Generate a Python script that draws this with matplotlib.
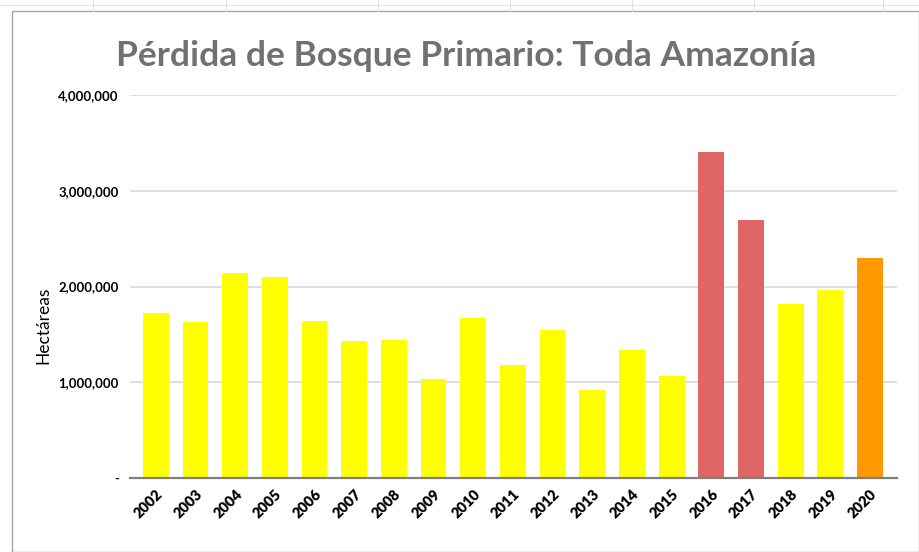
import matplotlib
matplotlib.use("Agg")
import matplotlib.pyplot as plt
from matplotlib.ticker import FuncFormatter
from matplotlib.lines import Line2D
from matplotlib.patches import Rectangle

years = ["2002", "2003", "2004", "2005", "2006", "2007", "2008", "2009", "2010", "2011",
         "2012", "2013", "2014", "2015", "2016", "2017", "2018", "2019", "2020"]
hectares = [1720000, 1630000, 2140000, 2100000, 1640000, 1430000, 1440000, 1030000, 1670000,
            1180000, 1550000, 920000, 1340000, 1070000, 3400000, 2690000, 1820000, 1960000, 2300000]
bar_colors = ["#FFFF00"] * 14 + ["#E06666", "#E06666"] + ["#FFFF00", "#FFFF00"] + ["#FF9900"]
yticks = [0, 1000000, 2000000, 3000000, 4000000]

plt.rcParams['font.family'] = ['Lato', 'DejaVu Sans']

W, H = 919, 552
fig = plt.figure(figsize=(W / 100, H / 100), dpi=100)
ax = fig.add_axes([130 / W, 1 - 478 / H, (897 - 130) / W, (478 - 95) / H])

x = list(range(len(years)))
ax.bar(x, hectares, width=0.65, color=bar_colors, zorder=3)

ax.set_ylim(0, 4000000)
ax.set_xlim(-0.65, 18.68)
ax.set_yticks(yticks)
ax.yaxis.set_major_formatter(FuncFormatter(lambda v, p: "-" if v == 0 else f"{int(v):,}"))
ax.grid(axis='y', color='#D9D9D9', linewidth=1.2, zorder=0)
ax.set_xticks(x)
ax.set_xticklabels(years, rotation=45, ha='right', rotation_mode='anchor')
for lbl in ax.get_yticklabels():
    lbl.set_fontweight('bold')
    lbl.set_fontsize(9.5)
for lbl in ax.get_xticklabels():
    lbl.set_fontweight('heavy')
    lbl.set_fontsize(10.5)
ax.tick_params(axis='both', length=0)
ax.tick_params(axis='y', pad=8)
ax.tick_params(axis='x', pad=7)
for s in ['top', 'right', 'left']:
    ax.spines[s].set_visible(False)
ax.spines['bottom'].set_color('#7F7F7F')
ax.spines['bottom'].set_linewidth(1.6)
ax.spines['bottom'].set_zorder(4)

fig.text(43 / W, 1 - 325 / H, "Hectáreas", rotation=90, ha='center', va='center', fontsize=12.5, color='black')
fig.text(466 / W, 1 - 56 / H, "Pérdida de Bosque Primario: Toda Amazonía", ha='center', va='center',
         fontsize=25.5, fontweight='bold', color='#717171')

# chart frame and faint spreadsheet grid
fig.patches.append(Rectangle((12 / W, 0), (W - 12) / W, (H - 11) / H, transform=fig.transFigure,
                             fill=False, edgecolor='#A6A6A6', linewidth=1.0))
for xv in [93, 226, 378, 510, 632, 754, 883]:
    fig.lines.append(Line2D([xv / W, xv / W], [1 - 11 / H, 1], transform=fig.transFigure,
                            color='#E0E0E0', linewidth=0.8))
fig.lines.append(Line2D([0, 1], [1 - 5 / H, 1 - 5 / H], transform=fig.transFigure, color='#E6E6E6', linewidth=0.8))

fig.savefig("out.png", dpi=100)
